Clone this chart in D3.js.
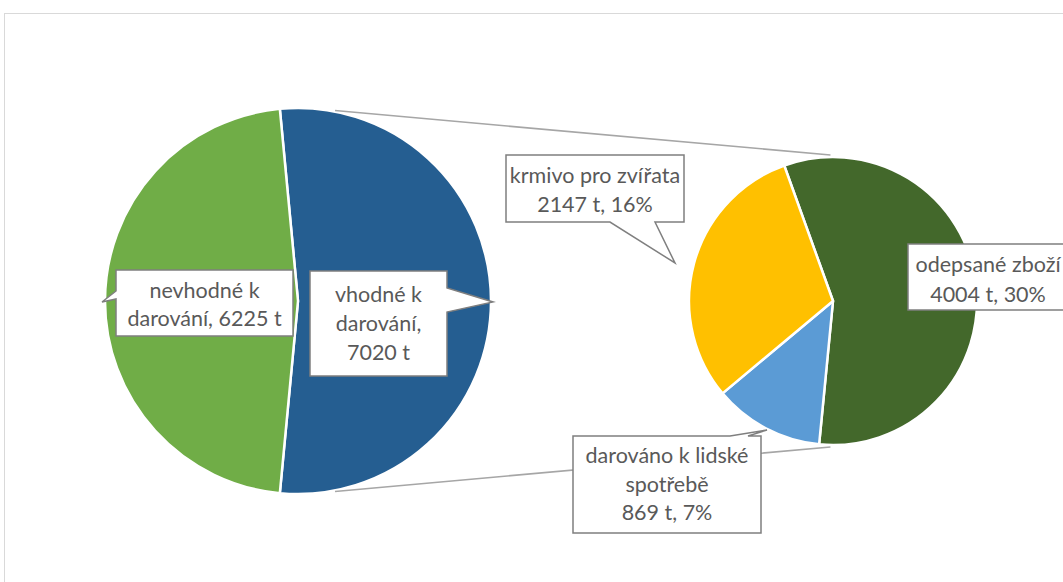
<!DOCTYPE html>
<html><head><meta charset="utf-8">
<script src="https://cdn.jsdelivr.net/npm/d3@7"></script>
<style>
html,body{margin:0;padding:0;background:#fff;overflow:hidden;}
svg{display:block;}
</style></head>
<body><svg id="c" width="1063" height="582"></svg>
<script>
// ---- data ----
const mainCategories = ["vhodné k darování", "nevhodné k darování"];
const mainValues = [7020, 6225];
const subCategories = ["odepsané zboží", "darováno k lidské spotřebě", "krmivo pro zvířata"];
const subValues = [4004, 869, 2147];
const mainColors = ["#255E91", "#70AD47"];
const subColors = ["#43682B", "#5B9BD5", "#FFC000"];
const unit = "t";

const total = d3.sum(mainValues);
const svg = d3.select("#c");
const FONT = "Lato, 'Open Sans', sans-serif";
const FS = 21.5;

// chart area border
svg.append("rect").attr("x", 4.5).attr("y", 13.5).attr("width", 1200).attr("height", 700)
  .attr("fill", "#fff").attr("stroke", "#D9D9D9").attr("stroke-width", 1);

const deg = Math.PI / 180;
// main pie
const mc = [298, 301], mr = 193;
const mainSpan = mainValues[0] / total * 360;
const mainPie = d3.pie().sort(null).value(d => d)
  .startAngle((90 - mainSpan / 2) * deg).endAngle((90 - mainSpan / 2 + 360) * deg);
const mainArcs = mainPie(mainValues);
const arcM = d3.arc().innerRadius(0).outerRadius(mr);
const gM = svg.append("g").attr("transform", `translate(${mc})`);
gM.selectAll("path").data(mainArcs).join("path")
  .attr("d", arcM).attr("fill", (d, i) => mainColors[i])
  .attr("stroke", "#fff").attr("stroke-width", 2.5).attr("stroke-linejoin", "round");

// sub pie
const sc = [833, 301], sr = 144;
const subStart = -19.8;
const subPie = d3.pie().sort(null).value(d => d)
  .startAngle(subStart * deg).endAngle((subStart + 360) * deg);
const subArcs = subPie(subValues);
const arcS = d3.arc().innerRadius(0).outerRadius(sr);
const gS = svg.append("g").attr("transform", `translate(${sc})`);
gS.selectAll("path").data(subArcs).join("path")
  .attr("d", arcS).attr("fill", (d, i) => subColors[i])
  .attr("stroke", "#fff").attr("stroke-width", 2.5).attr("stroke-linejoin", "round");

// connector lines
function pt(c, r, a) { return [c[0] + r * Math.sin(a * deg), c[1] - r * Math.cos(a * deg)]; }
const conn = [[pt(mc, mr + 1, 11), pt(sc, sr + 2, -1)], [pt(mc, mr + 1, 169), pt(sc, sr + 2, 181)]];
svg.selectAll("line.conn").data(conn).join("line").attr("class", "conn")
  .attr("x1", d => d[0][0]).attr("y1", d => d[0][1])
  .attr("x2", d => d[1][0]).attr("y2", d => d[1][1])
  .attr("stroke", "#A6A6A6").attr("stroke-width", 1.6);

// callouts
function callout(box, ptr, lines, cx, baselines) {
  const [x0, y0, x1, y1] = box;
  let p;
  if (!ptr) p = `M${x0},${y0}H${x1}V${y1}H${x0}Z`;
  else if (ptr.side === "left") p = `M${x0},${y0}H${x1}V${y1}H${x0}V${ptr.b2}L${ptr.tip[0]},${ptr.tip[1]}L${x0},${ptr.b1}Z`;
  else if (ptr.side === "right") p = `M${x0},${y0}H${x1}V${ptr.b1}L${ptr.tip[0]},${ptr.tip[1]}L${x1},${ptr.b2}V${y1}H${x0}Z`;
  else if (ptr.side === "bottom") p = `M${x0},${y0}H${x1}V${y1}H${ptr.b2}L${ptr.tip[0]},${ptr.tip[1]}L${ptr.b1},${y1}H${x0}Z`;
  else if (ptr.side === "top") p = `M${x0},${y0}H${ptr.b1}L${ptr.tip[0]},${ptr.tip[1]}L${ptr.b2},${y0}H${x1}V${y1}H${x0}Z`;
  svg.append("path").attr("d", p).attr("fill", "#fff").attr("stroke", "#7F7F7F").attr("stroke-width", 1.5)
    .attr("stroke-linejoin", "miter");
  const t = svg.append("text").attr("font-family", FONT).attr("font-size", FS).attr("fill", "#595959")
    .attr("text-anchor", "middle");
  lines.forEach((l, i) => t.append("tspan").attr("x", cx).attr("y", baselines[i]).text(l));
}
const pct = v => Math.round(v / total * 100) + "%";

// main labels
callout([310, 271, 447, 376], { side: "right", b1: 288, b2: 312, tip: [493, 302] },
  ["vhodné k", "darování,", `${mainValues[0]} ${unit}`], 378.5, [302, 331, 360]);
callout([116, 270, 293, 336], { side: "left", b1: 291, b2: 299, tip: [102, 302] },
  ["nevhodné k", `darování, ${mainValues[1]} ${unit}`], 204.5, [298, 326]);

// sub labels
callout([506, 155, 684, 222], { side: "bottom", b1: 610, b2: 655, tip: [675, 263] },
  [subCategories[2], `${subValues[2]} ${unit}, ${pct(subValues[2])}`], 595, [183, 212]);
callout([908, 244, 1068, 310], null,
  [subCategories[0], `${subValues[0]} ${unit}, ${pct(subValues[0])}`], 988, [272, 302]);
callout([573, 436, 761, 533], { side: "top", b1: 730, b2: 748, tip: [767, 430] },
  ["darováno k lidské", "spotřebě", `${subValues[1]} ${unit}, ${pct(subValues[1])}`], 667, [463, 492, 520]);
</script></body></html>
